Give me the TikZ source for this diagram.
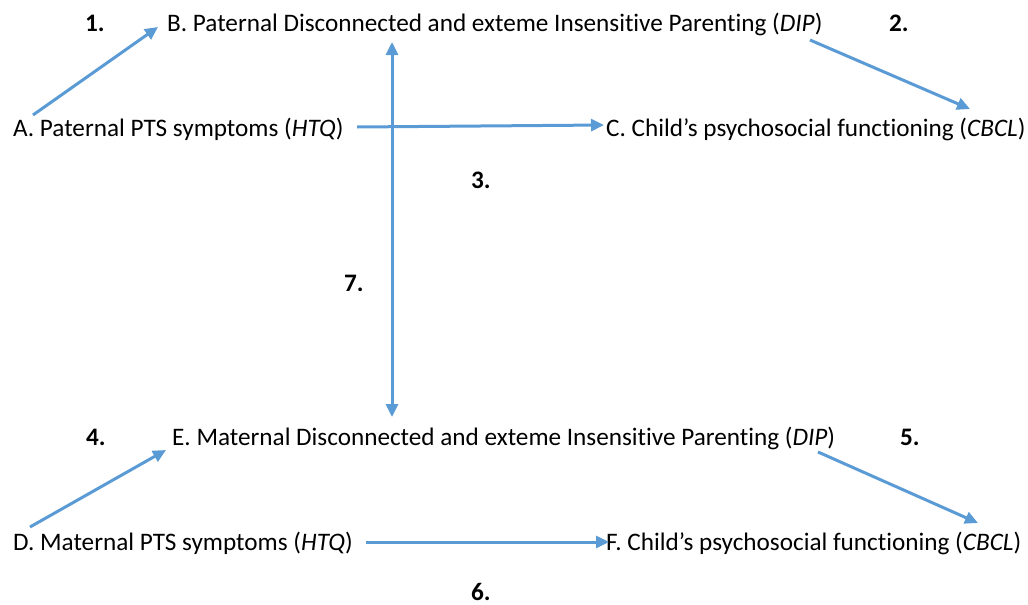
\documentclass[tikz,border=0pt]{standalone}
\usepackage{fontspec}
\setmainfont{Carlito}[Ligatures={NoCommon}]
\usetikzlibrary{arrows.meta}
\definecolor{arr}{HTML}{5B9BD5}
\begin{document}
\begin{tikzpicture}[x=1pt,y=-1pt,
  lbl/.style={anchor=base west,inner sep=0pt,font=\fontsize{25.2}{30}\selectfont},
  num/.style={anchor=base west,inner sep=0pt,font=\fontsize{25.2}{30}\selectfont\bfseries},
  conn/.style={draw=arr,line width=3pt,-{Triangle[length=13pt,width=12pt]}},
  conn2/.style={draw=arr,line width=3pt,{Triangle[length=13pt,width=12pt]}-{Triangle[length=13pt,width=12pt]}}]
\useasboundingbox (0,0) rectangle (1028,605);
% texts
\node[lbl] (B) at (167,31) {B. Paternal Disconnected and exteme Insensitive Parenting (\textit{DIP})};
\node[lbl] (A) at (13,136) {A. Paternal PTS symptoms (\textit{HTQ})};
\node[lbl] (C) at (606,136) {C. Child’s psychosocial functioning (\textit{CBCL})};
\node[lbl] (E) at (172,445) {E. Maternal Disconnected and exteme Insensitive Parenting (\textit{DIP})};
\node[lbl] (D) at (13,550) {D. Maternal PTS symptoms (\textit{HTQ})};
\node[lbl] (F) at (606,550) {F. Child’s psychosocial functioning (\textit{CBCL})};
% numbers
\node[num] (n1) at (85,31) {1.};
\node[num] (n2) at (889,31) {2.};
\node[num] (n3) at (471,188) {3.};
\node[num] (n7) at (344,291) {7.};
\node[num] (n4) at (86,445) {4.};
\node[num] (n5) at (900,445) {5.};
\node[num] (n6) at (471,600) {6.};
% connector ends
\coordinate (a1) at (33,115);
\coordinate (b1) at (158,27);
\coordinate (b2) at (810,40);
\coordinate (c2) at (970,109);
\coordinate (a3) at (357,127);
\coordinate (c3) at (604,125);
\coordinate (b7) at (392,42);
\coordinate (e7) at (392,417);
\coordinate (d4) at (30,527);
\coordinate (e4) at (166,450);
\coordinate (e5) at (818,452);
\coordinate (f5) at (978,523);
\coordinate (d6) at (366,542);
\coordinate (f6) at (609,542);
% connectors
\draw[conn] (a1) -- (b1);
\draw[conn] (b2) -- (c2);
\draw[conn] (a3) -- (c3);
\draw[conn2] (b7) -- (e7);
\draw[conn] (d4) -- (e4);
\draw[conn] (e5) -- (f5);
\draw[conn] (d6) -- (f6);
\end{tikzpicture}
\end{document}
